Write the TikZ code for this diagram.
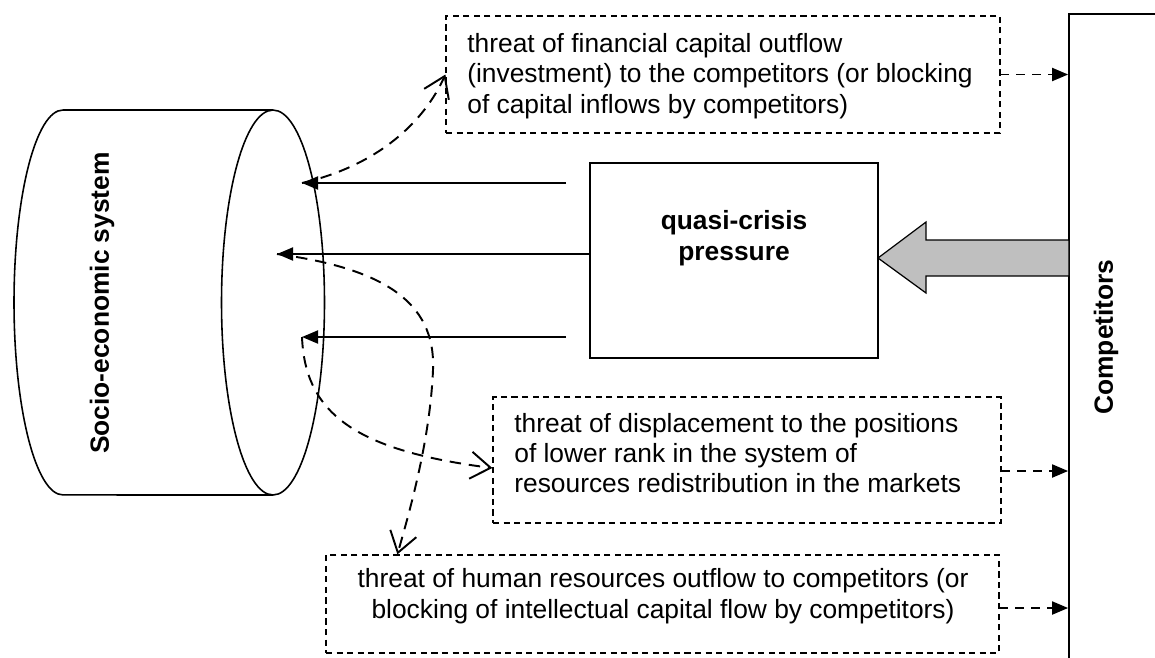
\documentclass[tikz,border=0pt]{standalone}
\usepackage{fontspec}
\setmainfont{Liberation Sans}
\usetikzlibrary{arrows.meta,fit}

\begin{document}
\begin{tikzpicture}[x=0.02cm,y=-0.02cm,
  font=\fontsize{15}{17.3}\selectfont,
  heavy/.style={font=\fontsize{15}{17.3}\selectfont\bfseries},
  threatbox/.style={draw,dash pattern=on 3.5pt off 2.5pt,line width=0.7pt,inner sep=0pt},
  push/.style={line width=1.1pt,-{Triangle[length=3.2mm,width=2.6mm]}},
  threat/.style={line width=1.1pt,dash pattern=on 6.5pt off 4.5pt,-{Straight Barb[length=4mm,width=5.4mm]}},
  tocomp/.style={line width=1.1pt,dash pattern=on 5pt off 4pt,-{Triangle[length=3.2mm,width=2.6mm]}}]

\useasboundingbox (0,0) rectangle (1155,657);

% socio-economic system
\draw[line width=0.9pt] (273,110) -- (63,110) arc[start angle=90,end angle=270,x radius=0.98cm,y radius=3.85cm] -- (273,495);
\draw[line width=0.9pt] (273,302.5) ellipse[x radius=1.03cm,y radius=3.85cm];
\node[heavy,rotate=90] (ses) at (102,303) {Socio-economic system};

% competitors
\node[draw,line width=1pt,inner sep=0pt,fit={(1069,14) (1250,720)}] (comp) {};
\node[heavy,rotate=90] (compT) at (1106,337) {Competitors};

% quasi-crisis pressure
\node[draw,line width=1pt,inner sep=0pt,fit={(590,163) (878,358)}] (quasi) {};
\node[heavy,align=center] (quasiT) at (734,238) {quasi-crisis\\pressure};
\draw[fill=black!25,line width=0.7pt] (878,258) -- (926,222) -- (926,240) -- (1069,240)
  -- (1069,276) -- (926,276) -- (926,293) -- cycle;

% threats
\node[threatbox,fit={(446,16) (1000,133)}] (fin) {};
\node[anchor=west,align=left,inner sep=0pt] (finT) at (467,76) {threat of financial capital outflow\\(investment) to the competitors (or blocking\\of capital inflows by competitors)};
\node[threatbox,fit={(493,397) (1001,523)}] (mid) {};
\node[anchor=west,align=left,inner sep=0pt] (midT) at (514,453) {threat of displacement to the positions\\of lower rank in the system of\\resources redistribution in the markets};
\node[threatbox,fit={(326,555) (999,653)}] (hum) {};
\node[align=center,inner sep=0pt] (humT) at (663,596) {threat of human resources outflow to competitors (or\\blocking of intellectual capital flow by competitors)};

% pressure arrows
\coordinate (inA) at (302,183);
\coordinate (inB) at (277,254);
\coordinate (inC) at (302,337);
\coordinate (outA) at (566,183);
\coordinate (outC) at (566,337);
\draw[push] (outA) -- (inA);
\draw[push] (quasi.west |- inB) -- (inB);
\draw[push] (outC) -- (inC);

% threat curves
\coordinate (humIn) at ([xshift=1.44cm]hum.north west);
\coordinate (midIn) at ([yshift=-0.16cm]mid.west);
\draw[threat] (inA) .. controls (380,165) and (425,120) .. (fin.west);
\draw[threat] (inB) .. controls (380,268) and (436,300) .. (433,370) .. controls (430,440) and (410,510) .. (humIn);
\draw[threat] (inC) .. controls (305,410) and (350,450) .. (midIn);

% towards competitors
\coordinate (midOut) at ([yshift=-0.22cm]mid.east);
\coordinate (humOut) at ([yshift=-0.08cm]hum.east);
\draw[tocomp] (fin.east) -- (fin.east -| comp.west);
\draw[tocomp] (midOut) -- (midOut -| comp.west);
\draw[tocomp] (humOut) -- (humOut -| comp.west);
\end{tikzpicture}
\end{document}
